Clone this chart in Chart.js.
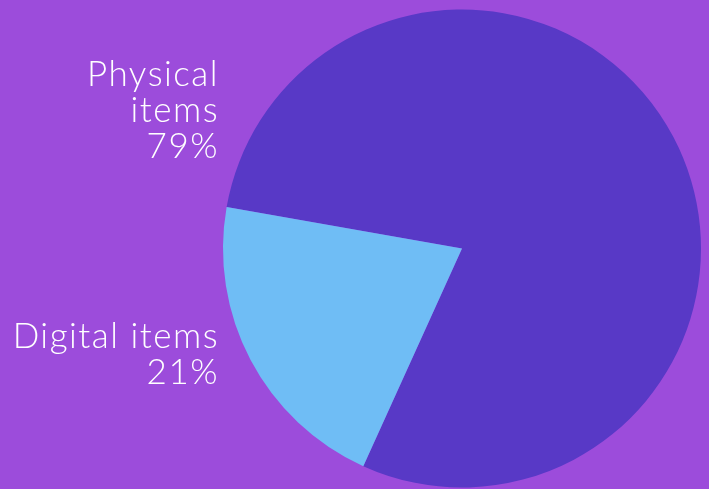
<!DOCTYPE html>
<html>
<head>
<meta charset="utf-8">
<script src="https://cdn.jsdelivr.net/npm/chart.js@4.4.1/dist/chart.umd.min.js"></script>
<style>
  html, body { margin: 0; padding: 0; background: #9c4cdb; }
  #wrap { width: 709px; height: 489px; }
</style>
</head>
<body>
<div id="wrap"><canvas id="chartItems"></canvas></div>
<script>
  // Datos
  const categories = ["Physical items", "Digital items"];
  const shares = [79, 21];
  const labelLines = [["Physical", "items", "79%"], ["Digital items", "21%"]];
  const colors = ["#5839c6", "#6fbdf5"];

  // etiquetas a la izquierda del pastel, alineadas a la derecha
  const sideLabels = {
    id: "sideLabels",
    afterDraw(chart) {
      const ctx = chart.ctx;
      const arc = chart.getDatasetMeta(0).data[0];
      const right = arc.x - 243;
      const firstBaseline = [arc.y - 163, arc.y + 99];
      ctx.save();
      ctx.fillStyle = "#ffffff";
      ctx.font = "300 35px Lato, 'Open Sans', sans-serif";
      ctx.letterSpacing = "1.5px";
      ctx.textAlign = "right";
      ctx.textBaseline = "alphabetic";
      labelLines.forEach((lines, i) => {
        lines.forEach((txt, j) => ctx.fillText(txt, right, firstBaseline[i] + j * 36));
      });
      ctx.restore();
    }
  };

  new Chart(document.getElementById("chartItems"), {
    type: "pie",
    data: {
      labels: categories,
      datasets: [{
        data: shares,
        backgroundColor: colors,
        borderWidth: 0
      }]
    },
    options: {
      responsive: true,
      maintainAspectRatio: false,
      animation: false,
      rotation: -80,
      layout: { padding: { left: 223, right: 8, top: 9, bottom: 1 } },
      plugins: {
        legend: { display: false },
        tooltip: { enabled: false }
      }
    },
    plugins: [sideLabels]
  });
</script>
</body>
</html>
